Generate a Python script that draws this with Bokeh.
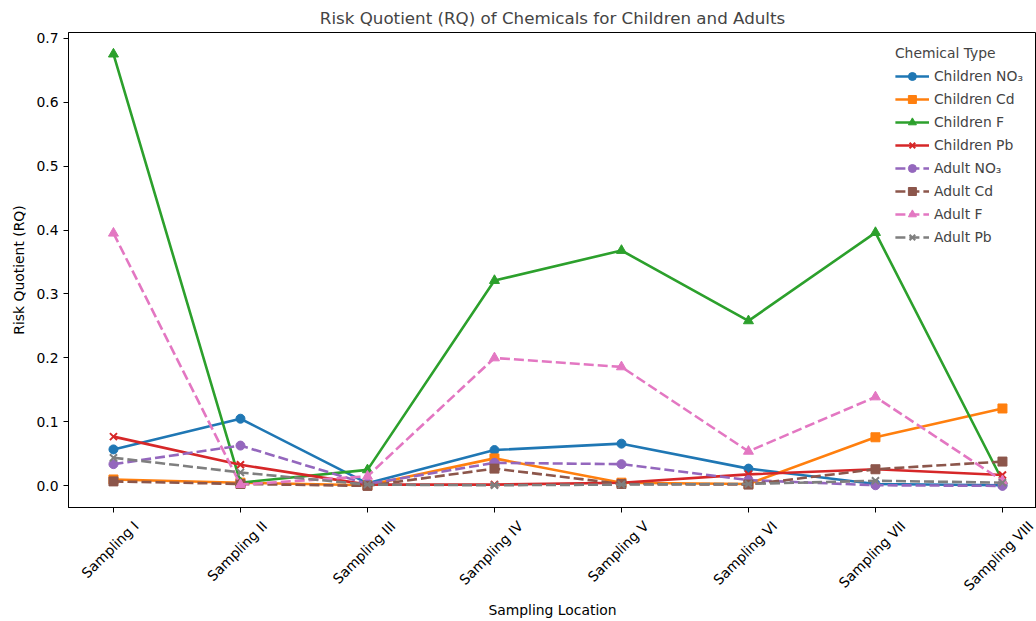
import math
from bokeh.plotting import figure
from bokeh.models import (Range1d, FixedTicker, PrintfTickFormatter, Legend, LegendItem,
                          LinearAxis)
from bokeh.embed import file_html
from bokeh.resources import INLINE

locations = ["Sampling I", "Sampling II", "Sampling III", "Sampling IV",
             "Sampling V", "Sampling VI", "Sampling VII", "Sampling VIII"]

children_no3 = [0.057, 0.105, 0.004, 0.056, 0.066, 0.027, 0.003, 0.001]
children_cd = [0.010, 0.005, 0.001, 0.043, 0.005, 0.003, 0.076, 0.121]
children_f = [0.675, 0.005, 0.025, 0.321, 0.368, 0.258, 0.396, 0.008]
children_pb = [0.077, 0.033, 0.002, 0.002, 0.005, 0.018, 0.026, 0.017]
adult_no3 = [0.034, 0.063, 0.003, 0.036, 0.034, 0.009, 0.001, 0.000]
adult_cd = [0.007, 0.003, 0.000, 0.027, 0.003, 0.002, 0.026, 0.038]
adult_f = [0.395, 0.002, 0.015, 0.200, 0.186, 0.054, 0.139, 0.008]
adult_pb = [0.044, 0.021, 0.002, 0.001, 0.002, 0.003, 0.008, 0.005]

series = [
    ("Children NO₃", children_no3, "#1f77b4", "circle", "solid"),
    ("Children Cd", children_cd, "#ff7f0e", "square", "solid"),
    ("Children F", children_f, "#2ca02c", "triangle", "solid"),
    ("Children Pb", children_pb, "#d62728", "x", "solid"),
    ("Adult NO₃", adult_no3, "#9467bd", "circle", "10 4"),
    ("Adult Cd", adult_cd, "#8c564b", "square", "10 4"),
    ("Adult F", adult_f, "#e377c2", "triangle", "10 4"),
    ("Adult Pb", adult_pb, "#7f7f7f", "x", "10 4"),
]

FONT = "DejaVu Sans"
TICK_PX = 13.9
X0, X1 = -0.354, 7.268
Y0, Y1 = -0.0338, 0.7088
WIDTH, LEFT = 1036, 68

# approximate DejaVu Sans advance widths (units per 2048 em), used to centre rotated labels
CHAR_W = {"S": 1300, "a": 1255, "m": 1995, "p": 1300, "l": 569, "i": 569,
          "n": 1298, "g": 1300, " ": 651, "I": 604, "V": 1401}


def text_width(s, px):
    return sum(CHAR_W.get(c, 1200) for c in s) / 2048 * px


p = figure(width=WIDTH, height=621, output_backend="svg", toolbar_location=None,
           x_range=Range1d(X0, X1), y_range=Range1d(Y0, Y1),
           min_border_left=LEFT, min_border_right=0, min_border_top=32, min_border_bottom=20)
p.extra_x_ranges = {"lbl": Range1d(X0, X1)}

p.title.text = "Risk Quotient (RQ) of Chemicals for Children and Adults"
p.title.align = "center"
p.title.text_font = FONT
p.title.text_font_size = "16.7px"
p.title.text_font_style = "normal"
p.title.standoff = 10

p.xgrid.visible = False
p.ygrid.visible = False
p.outline_line_color = "black"
p.outline_line_alpha = 1.0

xs = list(range(len(locations)))
items = []
for label, vals, color, marker, dash in series:
    r1 = p.line(xs, vals, line_color=color, line_width=2.6, line_dash=dash)
    if marker == "x":
        r2 = p.scatter(xs, vals, marker="x", size=10, line_color=color, line_width=2)
    else:
        sz = 9 if marker != "triangle" else 10
        r2 = p.scatter(xs, vals, marker=marker, size=sz, fill_color=color, line_color=color)
    items.append(LegendItem(label=label, renderers=[r1, r2]))

legend = Legend(items=items, location="top_right", title="Chemical Type",
                label_text_font=FONT, label_text_font_size="13.9px",
                title_text_font=FONT, title_text_font_size="13.9px",
                title_text_font_style="normal",
                glyph_width=34, glyph_height=20, label_height=20, spacing=3,
                border_line_alpha=0, background_fill_alpha=0, margin=7, padding=6)
p.add_layout(legend)

# main x axis: ticks only
p.xaxis.ticker = FixedTicker(ticks=xs)
p.xaxis.major_label_overrides = {i: "" for i in xs}
p.xaxis.major_label_standoff = 0

# label axis: rotated names shifted so each label is centred on its tick
px_per_unit = (WIDTH - LEFT) / (X1 - X0)
lbl_ticks, lbl_over = [], {}
for i, name in enumerate(locations):
    w = text_width(name, TICK_PX)
    shift = (w + 16) * 0.3535 - 9
    if i == len(locations) - 1:
        shift = min(shift, (WIDTH - 2 - LEFT) - (i - X0) * px_per_unit)
    t = round(i + shift / px_per_unit, 3)
    lbl_ticks.append(t)
    lbl_over[t] = name
lbl_axis = LinearAxis(x_range_name="lbl", ticker=FixedTicker(ticks=lbl_ticks),
                      major_label_overrides=lbl_over,
                      major_label_orientation=math.pi / 4,
                      major_label_standoff=5,
                      axis_line_color=None, major_tick_line_color=None,
                      minor_tick_line_color=None,
                      axis_label="Sampling Location", axis_label_standoff=0)
p.add_layout(lbl_axis, "below")

p.yaxis.ticker = FixedTicker(ticks=[0.0, 0.1, 0.2, 0.3, 0.4, 0.5, 0.6, 0.7])
p.yaxis.formatter = PrintfTickFormatter(format="%.1f")
p.yaxis.axis_label = "Risk Quotient (RQ)"
p.yaxis.axis_label_standoff = 6

for ax in (p.xaxis[0], p.yaxis[0], lbl_axis):
    ax.major_label_text_font = FONT
    ax.major_label_text_font_size = f"{TICK_PX}px"
    ax.major_label_text_color = "black"
    ax.axis_label_text_font = FONT
    ax.axis_label_text_font_size = f"{TICK_PX}px"
    ax.axis_label_text_font_style = "normal"
    ax.axis_label_text_color = "black"
for ax in (p.xaxis[0], p.yaxis[0]):
    ax.minor_tick_line_color = None
    ax.major_tick_in = 0
    ax.major_tick_out = 5
    ax.major_tick_line_color = "black"
    ax.axis_line_color = "black"

open("out.html", "w").write(file_html(p, INLINE))
